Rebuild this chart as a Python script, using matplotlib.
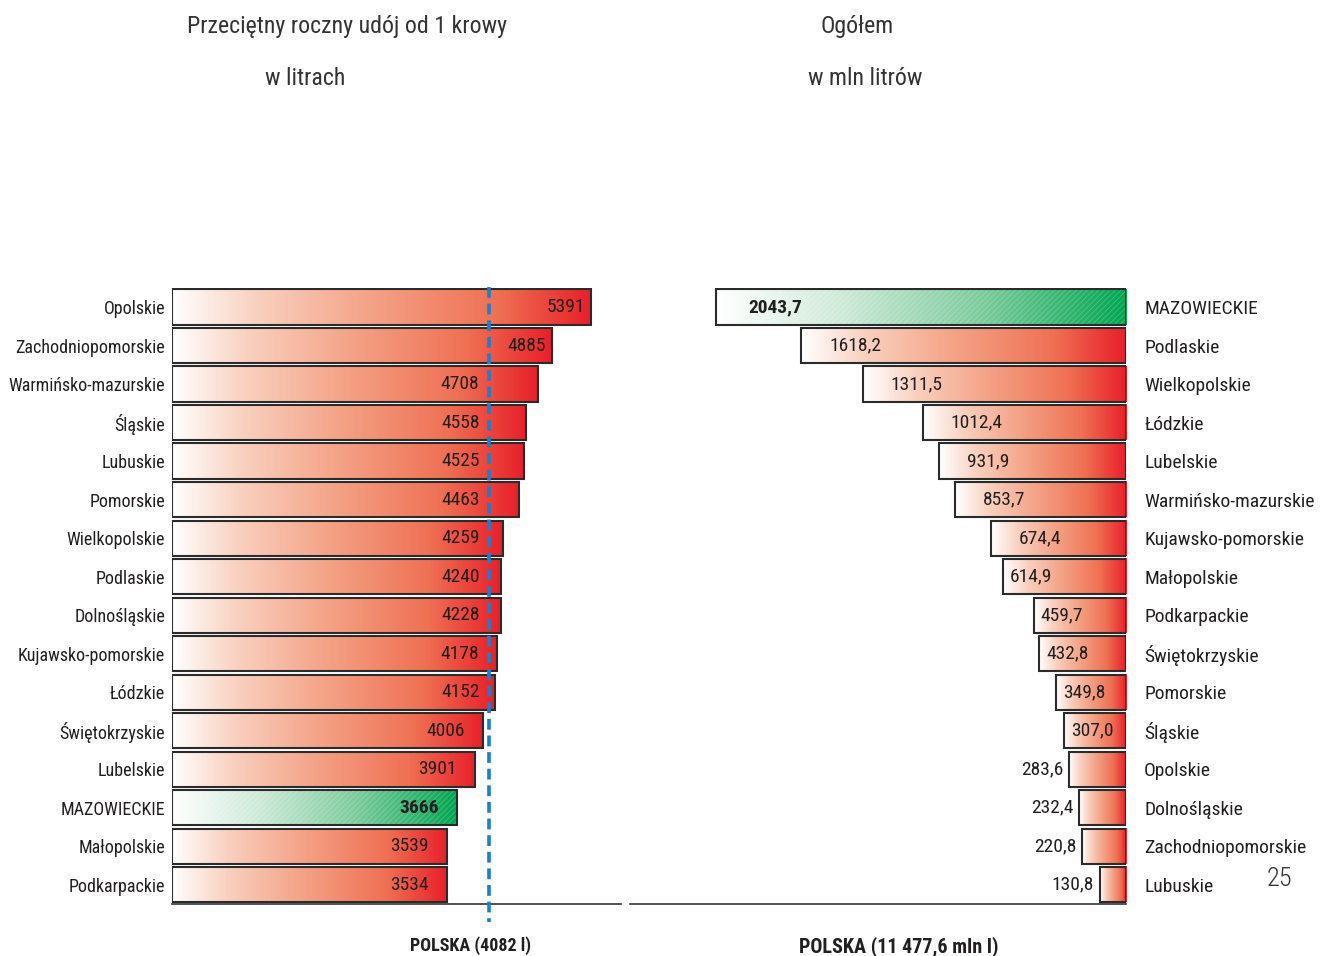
"""Udój mleka krów według województw — dwa wykresy słupkowe obok siebie."""
import numpy as np
import matplotlib

matplotlib.use("Agg")
import matplotlib.pyplot as plt
from matplotlib import font_manager as fm
from matplotlib.colors import LinearSegmentedColormap
from matplotlib.patches import Rectangle

# wąski krój (jak w oryginale), jeśli jest dostępny
_nazwy = {f.name for f in fm.fontManager.ttflist}
_waskie = [n for n in ("Liberation Sans Narrow", "Arial Narrow", "Roboto Condensed",
                       "Open Sans Condensed", "Noto Sans Condensed") if n in _nazwy]
if _waskie:
    plt.rcParams["font.family"] = [_waskie[0], "DejaVu Sans"]
    SKALA = 1.0
else:
    plt.rcParams["font.family"] = ["DejaVu Sans"]
    plt.rcParams["font.stretch"] = "condensed"
    _cond = any(f.name == "DejaVu Sans" and f.stretch == "condensed"
                for f in fm.fontManager.ttflist)
    SKALA = 1.0 if _cond else 0.85
plt.rcParams["hatch.linewidth"] = 0.7

# ===== Dane =====
woj_udoj = [
    "Opolskie", "Zachodniopomorskie", "Warmińsko-mazurskie", "Śląskie",
    "Lubuskie", "Pomorskie", "Wielkopolskie", "Podlaskie", "Dolnośląskie",
    "Kujawsko-pomorskie", "Łódzkie", "Świętokrzyskie", "Lubelskie",
    "MAZOWIECKIE", "Małopolskie", "Podkarpackie",
]
udoj = [5391, 4885, 4708, 4558, 4525, 4463, 4259, 4240, 4228,
        4178, 4152, 4006, 3901, 3666, 3539, 3534]

woj_ogolem = [
    "MAZOWIECKIE", "Podlaskie", "Wielkopolskie", "Łódzkie", "Lubelskie",
    "Warmińsko-mazurskie", "Kujawsko-pomorskie", "Małopolskie",
    "Podkarpackie", "Świętokrzyskie", "Pomorskie", "Śląskie", "Opolskie",
    "Dolnośląskie", "Zachodniopomorskie", "Lubuskie",
]
ogolem = [2043.7, 1618.2, 1311.5, 1012.4, 931.9, 853.7, 674.4, 614.9,
          459.7, 432.8, 349.8, 307.0, 283.6, 232.4, 220.8, 130.8]

POLSKA_UDOJ = 4082
POLSKA_OGOLEM = "11 477,6"
WYROZNIONE = "MAZOWIECKIE"

# ===== Styl =====
FS_L = 13 * SKALA      # etykiety lewego wykresu
FS_P = 14 * SKALA      # etykiety prawego wykresu
FS_TYT = 17.2 * SKALA
TXT = "#231f20"
EDGE = "#2b2b2b"
NIEBIESKI = "#1a7fd0"
CZERWONY = LinearSegmentedColormap.from_list(
    "czerwony",
    [(0.0, "#ffffff"), (0.2, "#f9d0bf"), (0.48, "#f4a185"),
     (0.78, "#ef7053"), (1.0, "#e8202a")],
)
ZIELONY = LinearSegmentedColormap.from_list(
    "zielony",
    [(0.0, "#ffffff"), (0.3, "#cfead9"), (0.65, "#7ccb9c"), (1.0, "#00a651")],
)
GRAD = np.linspace(0, 1, 256).reshape(1, -1)


def fmt(v):
    return f"{v:.1f}".replace(".", ",")


def wypelnij(ax, bars, nazwy, odwrotnie=False):
    """Gradient wewnątrz słupków (biały po lewej -> kolor po prawej)."""
    for b, nazwa in zip(bars, nazwy):
        x0, w = b.get_x(), b.get_width()
        y0, h = b.get_y(), b.get_height()
        cmap = ZIELONY if nazwa == WYROZNIONE else CZERWONY
        ext = (x0 + w, x0, y0, y0 + h) if odwrotnie else (x0, x0 + w, y0, y0 + h)
        ax.imshow(GRAD, cmap=cmap, aspect="auto", extent=ext,
                  interpolation="bicubic", zorder=1)
        if nazwa == WYROZNIONE:
            ax.add_patch(Rectangle((x0, y0), w, h, fill=False, hatch="//////",
                                   edgecolor=(1, 1, 1, 0.2), linewidth=0,
                                   zorder=2))


fig = plt.figure(figsize=(13.23, 9.56), dpi=100)
ax1 = fig.add_axes([0.130, 0.0544, 0.3394, 0.6444])
ax2 = fig.add_axes([0.4762, 0.0544, 0.3749, 0.6444])

y = np.arange(len(udoj))

# ----- lewy wykres: udój od 1 krowy -----
bars1 = ax1.barh(y, udoj, height=0.92, facecolor="none", edgecolor=EDGE,
                 linewidth=1.5, zorder=3)
wypelnij(ax1, bars1, woj_udoj)
ax1.set_xlim(0, 5778)
ax1.set_ylim(len(udoj) - 0.5, -0.5)
ax1.plot([POLSKA_UDOJ, POLSKA_UDOJ], [-0.52, 15.97], color=NIEBIESKI,
         lw=2.6, dashes=(3, 1.6), clip_on=False, zorder=5)

for yi, v, nazwa in zip(y, udoj, woj_udoj):
    if v - POLSKA_UDOJ > 700:
        xa, dx = v, -4
    elif v > POLSKA_UDOJ:
        xa, dx = POLSKA_UDOJ, -7
    else:
        xa, dx = v, -13
    ax1.annotate(str(v), (xa, yi), xytext=(dx, 0), textcoords="offset points",
                 ha="right", va="center", fontsize=FS_P, color=TXT, zorder=6,
                 fontweight="bold" if nazwa == WYROZNIONE else "normal")

ax1.set_yticks(y)
ax1.set_yticklabels(woj_udoj, fontsize=FS_L, color=TXT)
ax1.tick_params(axis="y", length=0, pad=5)
ax1.set_xticks([])
for s in ("top", "right", "left"):
    ax1.spines[s].set_visible(False)
ax1.spines["bottom"].set_color("#333333")
ax1.spines["bottom"].set_linewidth(1.2)

# ----- prawy wykres: ogółem -----
bars2 = ax2.barh(y, ogolem, height=0.92, facecolor="none", edgecolor=EDGE,
                 linewidth=1.5, zorder=3)
wypelnij(ax2, bars2, woj_ogolem, odwrotnie=True)
ax2.set_xlim(2472, 0)
ax2.set_ylim(len(ogolem) - 0.5, -0.5)

for yi, v, nazwa in zip(y, ogolem, woj_ogolem):
    bold = "bold" if nazwa == WYROZNIONE else "normal"
    if v < 300:
        ax2.annotate(fmt(v), (v, yi), xytext=(-4, 0), textcoords="offset points",
                     ha="right", va="center", fontsize=FS_P, color=TXT)
    else:
        dx = 20 if v > 650 else 5
        ax2.annotate(fmt(v), (v, yi), xytext=(dx if bold == "normal" else 23, 0),
                     textcoords="offset points", ha="left", va="center",
                     fontsize=FS_P, color=TXT, fontweight=bold, zorder=6)

ax2.yaxis.tick_right()
ax2.set_yticks(y)
ax2.set_yticklabels(woj_ogolem, fontsize=FS_P, color=TXT)
ax2.tick_params(axis="y", length=0, pad=13)
ax2.set_xticks([])
for s in ("top", "right", "left"):
    ax2.spines[s].set_visible(False)
ax2.spines["bottom"].set_color("#333333")
ax2.spines["bottom"].set_linewidth(1.2)

# ----- opisy -----
fig.text(0.262, 0.972, "Przeciętny roczny udój od 1 krowy", ha="center",
         va="center", fontsize=FS_TYT, color="#333333")
fig.text(0.231, 0.918, "w litrach", ha="center", va="center", fontsize=FS_TYT,
         color="#333333")
fig.text(0.648, 0.972, "Ogółem", ha="center", va="center", fontsize=FS_TYT,
         color="#333333")
fig.text(0.654, 0.918, "w mln litrów", ha="center", va="center",
         fontsize=FS_TYT, color="#333333")
fig.text(0.356, 0.011, f"POLSKA ({POLSKA_UDOJ} l)", ha="center", va="center",
         fontsize=13 * SKALA, fontweight="bold", color=TXT)
fig.text(0.679, 0.010, f"POLSKA ({POLSKA_OGOLEM} mln l)", ha="center",
         va="center", fontsize=14.5 * SKALA, fontweight="bold", color=TXT)
fig.text(0.967, 0.081, "25", ha="center", va="center", fontsize=19,
         fontweight="light", color="#333333")

fig.savefig("out.png", dpi=100)
